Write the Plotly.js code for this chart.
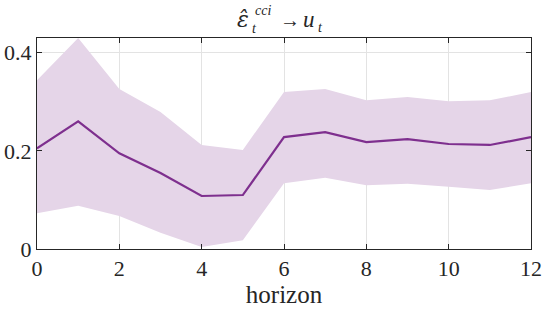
<!DOCTYPE html>
<html><head><meta charset="utf-8">
<script src="https://cdn.plot.ly/plotly-3.0.1.min.js"></script>
<style>html,body{margin:0;padding:0;background:#fff}#chart{width:545px;height:312px}</style>
</head><body><div id="chart"></div>
<script>
const horizon = [0,1,2,3,4,5,6,7,8,9,10,11,12];
const meanResp = [0.205,0.260,0.195,0.155,0.108,0.110,0.228,0.238,0.218,0.224,0.214,0.212,0.228];
const upperBand = [0.344,0.430,0.326,0.279,0.212,0.202,0.320,0.326,0.303,0.310,0.301,0.303,0.320];
const lowerBand = [0.073,0.088,0.067,0.033,0.004,0.018,0.134,0.145,0.130,0.133,0.127,0.120,0.134];
const xTicks = [0,2,4,6,8,10,12];
const yTicks = [0,0.2,0.4];
const yTickLabels = ['0','0.2','0.4'];
const titleParts = ['ε̂', 'cci', 't', '→', 'u', 't'];

function fnt(size, fam){ return {family: fam || 'Liberation Serif', size:size, color:'#262626'}; }
const traces = [
  {x:horizon, y:lowerBand, type:'scatter', mode:'lines', line:{width:0}, hoverinfo:'skip', showlegend:false},
  {x:horizon, y:upperBand, type:'scatter', mode:'lines', line:{width:0}, fill:'tonexty', fillcolor:'#E5D5E8', hoverinfo:'skip', showlegend:false},
  {x:horizon, y:meanResp, type:'scatter', mode:'lines', line:{color:'#7E2F8E', width:2.2}, showlegend:false}
];
// title pieces as annotations (paper coordinates)
const tPos = [
  {x:0.417, y:1.090, size:22, fam:'DejaVu Serif', it:true},
  {x:0.4575, y:1.1327, size:14, it:true},
  {x:0.4393, y:1.0427, size:14, it:true},
  {x:0.5121, y:1.086, size:20, it:false},
  {x:0.5506, y:1.086, size:23, it:true},
  {x:0.5729, y:1.0521, size:14, it:true}
];
const annotations = titleParts.map((s, i) => ({
  text: tPos[i].it ? '<i>' + s + '</i>' : s,
  x: tPos[i].x, y: tPos[i].y, xref:'paper', yref:'paper', xanchor:'center', yanchor:'middle',
  showarrow:false, font: fnt(tPos[i].size, tPos[i].fam)
}));
const layout = {
  width:545, height:312,
  margin:{l:37, r:14, t:38, b:63},
  font:fnt(21),
  annotations: annotations,
  xaxis:{range:[0,12], tickvals:xTicks, ticktext:xTicks.map(String), showgrid:true, gridcolor:'#e3e3e3',
    zeroline:false, showline:true, linecolor:'#262626', mirror:'ticks', ticks:'inside', ticklen:5, tickcolor:'#262626',
    tickfont:fnt(22), title:{text:'horizon', font:fnt(25), standoff:2}},
  yaxis:{range:[0,0.43], tickvals:yTicks, ticktext:yTickLabels, showgrid:true, gridcolor:'#e3e3e3',
    zeroline:false, showline:true, linecolor:'#262626', mirror:'ticks', ticks:'inside', ticklen:5, tickcolor:'#262626',
    tickfont:fnt(22)}
};
Plotly.newPlot('chart', traces, layout, {staticPlot:true});
</script></body></html>
